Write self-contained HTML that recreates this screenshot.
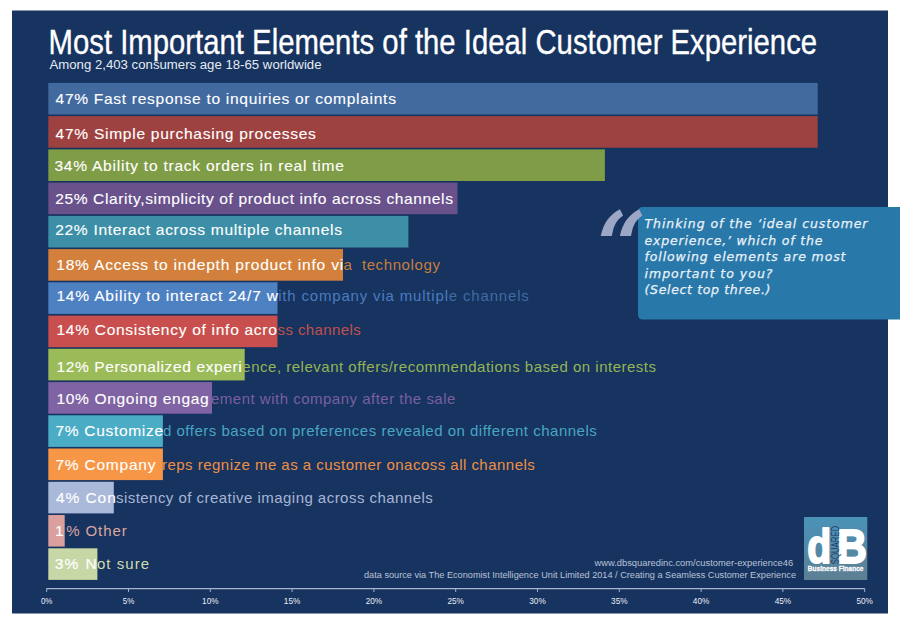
<!DOCTYPE html>
<html lang="en"><head><meta charset="utf-8"><title>Most Important Elements of the Ideal Customer Experience</title>
<style>
html,body{margin:0;padding:0;background:#fff;width:900px;height:625px;overflow:hidden}
svg{display:block}
text{font-family:"Liberation Sans",sans-serif;white-space:pre}
.in{fill:#fff;font-size:14.4px;stroke:#fff;stroke-width:.12px}
.out{font-size:14.3px}
.ax{font-size:9px;fill:#e9edf5;text-anchor:middle}
.q{font-family:"DejaVu Sans","Liberation Sans",sans-serif;font-style:oblique;font-size:12.5px;fill:#e8f1f8;stroke:#e8f1f8;stroke-width:.25px}
.qm{font-family:"DejaVu Serif","Liberation Serif",serif;font-style:italic;font-weight:bold;font-size:91px;fill:#9ca7c5}
.db{font-size:49px;font-weight:bold;fill:#fff;stroke:#fff;stroke-width:2px;stroke-linejoin:round}
.sq{font-size:11.4px;fill:#1c3c6c}
.bf{font-size:6.8px;font-weight:bold;stroke-width:.3px}
.ft{font-size:9.2px;fill:#b9c4d8}
</style></head><body>
<svg width="900" height="625" viewBox="0 0 900 625">
<defs>
<linearGradient id="lg" x1="0" y1="0" x2="0" y2="1"><stop offset="0" stop-color="#4a93b8"/><stop offset="1" stop-color="#5d7f94"/></linearGradient>
</defs>
<rect x="0" y="0" width="900" height="625" fill="#fff"/>
<rect x="12" y="10.5" width="876" height="603" fill="#17335f"/>
<text x="48.6" y="53.5" font-size="35" fill="#fff" stroke="#fff" stroke-width="0.35" textLength="768.5" lengthAdjust="spacingAndGlyphs">Most Important Elements of the Ideal Customer Experience</text>
<text x="49.5" y="68.6" font-size="12" fill="#e6ebf3" textLength="272" lengthAdjust="spacingAndGlyphs">Among 2,403 consumers age 18-65 worldwide</text>
<rect x="48.3" y="82.9" width="769.4" height="31.6" fill="#426a9f"/>
<rect x="48.3" y="116.1" width="769.4" height="31.6" fill="#9e4241"/>
<rect x="48.3" y="149.4" width="556.6" height="31.6" fill="#7f9c46"/>
<rect x="48.3" y="182.6" width="409.2" height="31.6" fill="#69518c"/>
<rect x="48.3" y="215.9" width="360.1" height="31.6" fill="#3d8fa8"/>
<rect x="48.3" y="249.1" width="294.7" height="31.6" fill="#d2803c"/>
<rect x="48.3" y="282.3" width="229.2" height="31.6" fill="#4e81c2"/>
<rect x="48.3" y="315.6" width="229.2" height="31.6" fill="#c84f4d"/>
<rect x="48.3" y="348.8" width="196.4" height="31.6" fill="#9bbb59"/>
<rect x="48.3" y="382.1" width="163.7" height="31.6" fill="#7f63a3"/>
<rect x="48.3" y="415.3" width="114.6" height="31.6" fill="#4bacc6"/>
<rect x="48.3" y="448.5" width="114.6" height="31.6" fill="#f79646"/>
<rect x="48.3" y="481.8" width="65.5" height="31.6" fill="#aab9da"/>
<rect x="48.3" y="515.0" width="16.4" height="31.6" fill="#dba09e"/>
<rect x="48.3" y="548.3" width="49.1" height="31.6" fill="#c8d7a6"/>
<text class="in" transform="translate(55.55 104.0) scale(1.08 1)" textLength="315.14" lengthAdjust="spacing">47% Fast response to inquiries or complaints</text>
<text class="in" transform="translate(55.55 138.7) scale(1.08 1)" textLength="241.06" lengthAdjust="spacing">47% Simple purchasing processes</text>
<text class="in" transform="translate(54.45 171.3) scale(1.08 1)" textLength="268.01" lengthAdjust="spacing">34% Ability to track orders in real time</text>
<text class="in" transform="translate(55.20 204.0) scale(1.08 1)" textLength="368.24" lengthAdjust="spacing">25% Clarity,simplicity of product info across channels</text>
<text class="in" transform="translate(55.20 235.3) scale(1.08 1)" textLength="265.46" lengthAdjust="spacing">22% Interact across multiple channels</text>
<text class="in" transform="translate(56.25 269.6) scale(1.08 1)" textLength="265.69" lengthAdjust="spacing">18% Access to indepth product info vi</text>
<text class="out" transform="translate(343.40 269.6) scale(1.05 1)" fill="#c87d3c" textLength="91.90" lengthAdjust="spacing">a  technology</text>
<text class="in" transform="translate(56.45 301.3) scale(1.08 1)" textLength="205.05" lengthAdjust="spacing">14% Ability to interact 24/7 w</text>
<text class="out" transform="translate(278.20 301.3) scale(1.05 1)" fill="#4a7cc0" textLength="238.67" lengthAdjust="spacing"><tspan fill="#4a7cc0">ith company via multipl</tspan><tspan fill="#3f6ba6">e channels</tspan></text>
<text class="in" transform="translate(56.45 335.3) scale(1.08 1)" textLength="204.12" lengthAdjust="spacing">14% Consistency of info acro</text>
<text class="out" transform="translate(277.60 335.3) scale(1.05 1)" fill="#c0504d" textLength="79.24" lengthAdjust="spacing">ss channels</text>
<text class="in" transform="translate(56.45 371.7) scale(1.08 1)" textLength="171.62" lengthAdjust="spacing">12% Personalized experi</text>
<text class="out" transform="translate(242.35 371.7) scale(1.05 1)" fill="#94b555" textLength="394.00" lengthAdjust="spacing">ence, relevant offers/recommendations based on interests</text>
<text class="in" transform="translate(56.45 403.7) scale(1.08 1)" textLength="140.93" lengthAdjust="spacing">10% Ongoing engag</text>
<text class="out" transform="translate(211.00 403.7) scale(1.05 1)" fill="#7a5fa0" textLength="232.76" lengthAdjust="spacing">ement with company after the sale</text>
<text class="in" transform="translate(55.45 436.3) scale(1.08 1)" textLength="99.63" lengthAdjust="spacing">7% Customize</text>
<text class="out" transform="translate(163.00 436.3) scale(1.05 1)" fill="#48a6c2" textLength="413.14" lengthAdjust="spacing">d offers based on preferences revealed on different channels</text>
<text class="in" transform="translate(55.45 469.7) scale(1.08 1)" textLength="92.64" lengthAdjust="spacing">7% Company</text>
<text class="out" transform="translate(162.00 469.7) scale(1.05 1)" fill="#ee9044" textLength="355.05" lengthAdjust="spacing">reps regnize me as a customer onacoss all channels</text>
<text class="in" transform="translate(55.95 502.7) scale(1.08 1)" textLength="55.42" lengthAdjust="spacing">4% Con</text>
<text class="out" transform="translate(115.95 502.7) scale(1.05 1)" fill="#a8b6d6" textLength="301.76" lengthAdjust="spacing">sistency of creative imaging across channels</text>
<text class="in" transform="translate(54.95 536.3) scale(1.08 1)" textLength="5.46" lengthAdjust="spacing">1</text>
<text class="out" transform="translate(66.15 536.3) scale(1.05 1)" fill="#dba5a2" textLength="57.62" lengthAdjust="spacing">% Other</text>
<text class="in" transform="translate(54.65 568.7) scale(1.08 1)" textLength="38.89" lengthAdjust="spacing">3% N</text>
<text class="out" transform="translate(96.95 568.7) scale(1.05 1)" fill="#cfdcae" textLength="49.62" lengthAdjust="spacing">ot sure</text>
<path d="M46.7 588.6H864.7" stroke="#aab6cd" stroke-width="1.1" fill="none"/>
<path d="M46.7 588.4V591.9M128.5 588.4V591.9M210.3 588.4V591.9M292.1 588.4V591.9M373.9 588.4V591.9M455.7 588.4V591.9M537.5 588.4V591.9M619.3 588.4V591.9M701.1 588.4V591.9M782.9 588.4V591.9M864.7 588.4V591.9" stroke="#aab6cd" stroke-width="1" fill="none"/>
<text class="ax" x="46.7" y="603.8" textLength="11.5" lengthAdjust="spacingAndGlyphs">0%</text>
<text class="ax" x="128.5" y="603.8" textLength="11.5" lengthAdjust="spacingAndGlyphs">5%</text>
<text class="ax" x="210.3" y="603.8" textLength="16.5" lengthAdjust="spacingAndGlyphs">10%</text>
<text class="ax" x="292.1" y="603.8" textLength="16.5" lengthAdjust="spacingAndGlyphs">15%</text>
<text class="ax" x="373.9" y="603.8" textLength="16.5" lengthAdjust="spacingAndGlyphs">20%</text>
<text class="ax" x="455.7" y="603.8" textLength="16.5" lengthAdjust="spacingAndGlyphs">25%</text>
<text class="ax" x="537.5" y="603.8" textLength="16.5" lengthAdjust="spacingAndGlyphs">30%</text>
<text class="ax" x="619.3" y="603.8" textLength="16.5" lengthAdjust="spacingAndGlyphs">35%</text>
<text class="ax" x="701.1" y="603.8" textLength="16.5" lengthAdjust="spacingAndGlyphs">40%</text>
<text class="ax" x="782.9" y="603.8" textLength="16.5" lengthAdjust="spacingAndGlyphs">45%</text>
<text class="ax" x="864.7" y="603.8" textLength="16.5" lengthAdjust="spacingAndGlyphs">50%</text>
<text class="ft" x="594.5" y="566" textLength="198.7" lengthAdjust="spacingAndGlyphs">www.dbsquaredinc.com/customer-experience46</text>
<text class="ft" x="364" y="578.4" textLength="432" lengthAdjust="spacingAndGlyphs">data source via The Economist Intelligence Unit Limited 2014 / Creating a Seamless Customer Experience</text>
<g>
<rect x="804" y="517" width="63.3" height="63" fill="url(#lg)"/>
<text class="db" transform="translate(807.2 562.8) scale(0.8 1)">d</text>
<text class="db" transform="translate(836.9 562.8) scale(0.845 1)">B</text>
<text class="sq" transform="translate(839 564.3) rotate(-90)" textLength="38.5" lengthAdjust="spacingAndGlyphs">SQUARED</text>
<text class="bf" x="808.3" y="571.3" fill="#4b6a86" textLength="55.7" lengthAdjust="spacingAndGlyphs">Business Finance</text>
<text class="bf" x="807.8" y="570.7" fill="#fff" stroke="#fff" textLength="55.7" lengthAdjust="spacingAndGlyphs">Business Finance</text>
</g>
<path d="M642.5 207H900V319.5H642.5a4.5 4.5 0 0 1-4.5-4.5V211.5a4.5 4.5 0 0 1 4.5-4.5z" fill="#2878a9"/>
<text class="qm" transform="translate(597.2 279.3) scale(0.93 1.02)">“</text>
<text class="q" x="644.5" y="227.8" textLength="223" lengthAdjust="spacing">Thinking of the ‘ideal customer</text>
<text class="q" x="644.5" y="244.5" textLength="178" lengthAdjust="spacing">experience,’ which of the</text>
<text class="q" x="644.5" y="261.1" textLength="201" lengthAdjust="spacing">following elements are most</text>
<text class="q" x="644.5" y="277.8" textLength="128" lengthAdjust="spacing">important to you?</text>
<text class="q" x="644.5" y="294.4" textLength="126" lengthAdjust="spacing">(Select top three.)</text>
</svg>
</body></html>
